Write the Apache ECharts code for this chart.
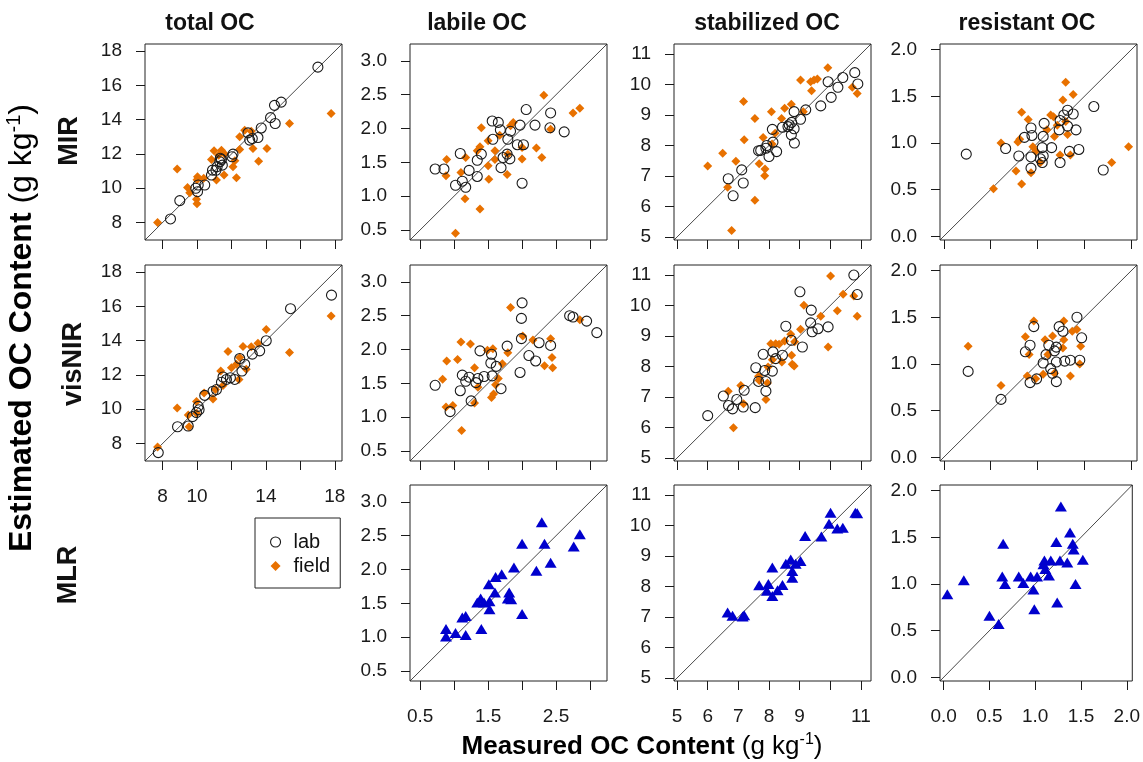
<!DOCTYPE html>
<html>
<head>
<meta charset="utf-8">
<title>Measured vs estimated OC</title>
<script src="https://cdn.jsdelivr.net/npm/echarts@6/dist/echarts.min.js"></script>
<style>
  html, body { margin: 0; padding: 0; background: #fff; }
  #chart { width: 1143px; height: 762px; }
</style>
</head>
<body>
<div id="chart"></div>
<script>
// ---- data: [measured, estimated] ----
const mirTotalLab = [[17.02,17.07],[14.5,14.84],[14.89,15.03],[14.27,14.12],[14.54,13.78],[13.73,13.52],[13.54,12.96],[13.21,12.9],[13.06,12.81],[12.96,13.23],[12.09,11.99],[12.03,11.84],[11.42,11.68],[11.32,11.55],[11.47,11.35],[11.17,11.26],[10.9,11.06],[10.84,10.77],[10.45,10.19],[10.07,10.19],[10.03,9.8],[9.93,10.0],[9.0,9.28],[8.46,8.21],[11.35,11.75],[11.1,11.05]];
const mirTotalField = [[7.71,8.0],[8.85,11.12],[9.45,10.05],[9.58,9.74],[9.97,9.36],[10.0,9.09],[10.03,10.67],[10.39,10.58],[10.99,12.19],[11.42,12.22],[10.84,11.68],[11.13,10.48],[11.57,10.77],[12.09,11.26],[12.29,10.62],[12.48,13.0],[12.77,13.39],[13.15,13.33],[12.48,12.26],[13.25,12.32],[13.58,11.57],[14.06,12.32],[15.37,13.78],[17.79,14.36],[11.26,11.93],[11.6,12.0],[12.2,11.6],[10.0,10.5]];

const mirLabileLab = [[0.72,1.40],[0.85,1.40],[1.02,1.16],[1.12,1.22],[1.17,1.13],[1.09,1.63],[1.22,1.38],[1.34,1.29],[1.34,1.53],[1.40,1.62],[1.56,2.11],[1.65,2.09],[1.68,1.98],[1.57,1.84],[1.69,1.42],[1.72,1.57],[1.79,1.84],[1.83,1.96],[1.78,1.62],[1.82,1.55],[1.93,1.76],[2.02,1.76],[1.97,2.05],[2.06,2.28],[2.0,1.19],[2.19,2.05],[2.41,2.01],[2.42,2.23],[2.62,1.95]];
const mirLabileField = [[1.02,0.45],[0.89,1.54],[0.88,1.30],[1.10,1.35],[1.17,1.57],[1.16,0.96],[1.38,0.81],[1.40,2.01],[1.34,1.67],[1.38,1.73],[1.50,1.82],[1.50,1.45],[1.51,1.25],[1.60,1.67],[1.60,1.54],[1.67,1.90],[1.78,1.32],[1.79,1.62],[1.83,2.04],[1.87,2.09],[2.0,1.55],[2.0,1.72],[2.21,1.71],[2.29,1.57],[2.32,2.49],[2.42,1.99],[2.75,2.23],[2.85,2.30]];

const mirStabLab = [[6.67,6.91],[6.83,6.35],[7.11,7.20],[7.16,6.77],[7.66,7.83],[7.73,7.84],[7.93,8.0],[7.90,7.91],[8.0,7.64],[8.25,7.80],[8.11,8.53],[8.13,8.11],[8.44,8.60],[8.62,8.62],[8.66,8.68],[8.74,8.76],[8.73,8.35],[8.82,8.55],[8.83,8.08],[8.82,9.11],[9.03,8.86],[9.20,9.17],[9.69,9.30],[9.93,10.09],[10.03,9.58],[10.25,9.91],[10.41,10.23],[10.80,10.39],[10.90,10.02]];
const mirStabField = [[6.0,7.33],[6.49,7.75],[6.65,6.63],[6.78,5.21],[6.92,7.48],[7.17,9.44],[7.19,8.19],[7.54,8.89],[7.54,6.20],[7.68,7.40],[7.81,8.26],[7.87,7.23],[7.86,7.01],[8.08,9.11],[8.20,8.40],[8.41,8.89],[8.51,9.22],[8.73,9.35],[9.03,10.15],[9.12,9.11],[9.39,9.80],[9.36,10.09],[9.47,10.15],[9.58,10.18],[9.92,10.55],[10.72,9.91],[10.88,9.71],[8.1,8.05]];

const mirResLab = [[0.24,0.88],[0.66,0.94],[0.80,0.86],[0.86,1.06],[0.93,1.16],[0.94,1.08],[0.93,0.85],[0.93,0.73],[1.03,0.83],[1.05,0.79],[1.06,0.86],[1.05,0.95],[1.06,1.07],[1.07,1.21],[1.15,0.95],[1.23,1.14],[1.24,1.24],[1.24,0.79],[1.28,1.30],[1.32,1.35],[1.32,1.18],[1.34,0.91],[1.38,1.31],[1.41,1.14],[1.44,0.93],[1.60,1.39],[1.70,0.71]];
const mirResField = [[0.53,0.51],[0.61,1.00],[0.77,0.70],[0.79,1.01],[0.81,1.04],[0.83,0.56],[0.83,1.33],[0.90,1.25],[0.93,0.68],[0.95,0.96],[0.98,0.91],[1.03,0.79],[1.10,1.14],[1.14,1.30],[1.17,1.28],[1.18,1.07],[1.21,1.19],[1.24,0.87],[1.27,1.46],[1.30,1.65],[1.30,1.23],[1.32,1.09],[1.35,0.87],[1.38,1.52],[1.79,0.79],[1.97,0.96]];

const visTotalLab = [[7.75,7.47],[8.87,8.98],[9.49,9.02],[9.74,9.57],[9.97,9.81],[10.07,10.17],[10.12,9.97],[10.45,10.81],[10.93,11.05],[11.13,11.15],[11.42,11.58],[11.51,11.88],[11.71,11.74],[11.94,11.84],[12.19,11.74],[12.48,12.96],[12.61,12.23],[12.77,12.63],[13.21,13.22],[13.64,13.41],[14.02,14.0],[15.43,15.87],[17.81,16.66]];
const visTotalField = [[7.71,7.80],[8.85,10.07],[9.49,9.67],[9.54,8.98],[9.97,10.46],[9.97,9.77],[10.41,10.95],[10.93,10.60],[11.07,11.15],[11.38,12.23],[11.51,11.39],[11.80,13.37],[12.0,12.43],[12.29,12.63],[12.44,11.74],[12.48,13.02],[12.67,13.67],[12.86,12.33],[13.15,13.65],[13.54,13.85],[14.02,14.65],[15.37,13.31],[17.79,15.44]];

const visLabileLab = [[0.72,1.47],[0.94,1.08],[1.09,1.39],[1.12,1.62],[1.17,1.53],[1.22,1.59],[1.25,1.24],[1.32,1.51],[1.35,1.57],[1.38,1.98],[1.44,1.60],[1.55,1.93],[1.54,1.80],[1.56,1.61],[1.62,1.75],[1.69,1.42],[1.78,2.05],[1.97,1.66],[1.99,2.16],[1.99,2.46],[2.0,2.69],[2.10,1.91],[2.20,1.83],[2.25,2.10],[2.42,2.06],[2.70,2.50],[2.75,2.48],[2.95,2.42],[3.10,2.25]];
const visLabileField = [[0.83,1.56],[0.88,1.15],[0.98,1.17],[0.89,1.83],[1.05,1.85],[1.10,2.11],[1.11,0.80],[1.24,2.08],[1.30,1.73],[1.30,1.21],[1.35,1.44],[1.49,1.99],[1.57,2.01],[1.55,1.29],[1.58,1.34],[1.61,1.48],[1.65,1.57],[1.71,1.79],[1.79,1.95],[1.83,2.62],[2.01,2.20],[2.16,2.14],[2.33,1.76],[2.42,2.16],[2.44,1.88],[2.45,1.73],[2.85,2.44]];

const visStabLab = [[6.0,6.39],[6.51,7.03],[6.68,6.72],[6.81,6.61],[6.95,6.92],[7.16,6.67],[7.19,7.22],[7.55,6.65],[7.57,7.96],[7.66,7.51],[7.81,8.40],[7.86,7.87],[7.90,7.51],[7.90,7.19],[8.11,7.85],[8.13,8.48],[8.22,8.26],[8.44,8.37],[8.55,9.32],[8.73,8.86],[9.01,10.45],[9.09,8.64],[9.36,9.43],[9.38,9.85],[9.41,9.14],[9.60,9.24],[9.93,9.30],[10.77,11.0],[10.88,10.36]];
const visStabField = [[6.67,7.19],[6.84,5.99],[7.08,7.38],[7.17,6.78],[7.66,7.68],[7.68,7.54],[7.90,6.92],[7.95,7.46],[7.97,7.98],[8.11,8.22],[8.06,8.75],[8.22,8.75],[8.33,8.73],[8.42,8.15],[8.51,8.84],[8.71,9.06],[8.74,8.37],[8.76,8.07],[8.82,8.02],[8.84,8.81],[9.03,9.22],[9.14,10.01],[9.69,9.65],[9.93,8.64],[10.01,10.97],[10.23,9.83],[10.42,10.37],[10.77,10.31],[10.88,9.65]];

const visResLab = [[0.26,0.92],[0.61,0.62],[0.87,1.13],[0.92,1.20],[0.92,0.80],[0.96,1.40],[0.99,0.84],[1.06,1.01],[1.09,1.10],[1.12,1.20],[1.14,0.95],[1.16,0.90],[1.18,1.14],[1.20,1.18],[1.20,0.81],[1.20,1.02],[1.23,1.40],[1.27,1.35],[1.29,1.03],[1.35,1.04],[1.42,1.50],[1.45,1.04],[1.47,1.28]];
const visResField = [[0.26,1.19],[0.61,0.77],[0.87,1.29],[0.89,0.87],[0.91,1.10],[0.96,1.46],[0.98,0.84],[1.06,0.89],[1.08,1.26],[1.11,1.10],[1.16,1.30],[1.18,0.90],[1.27,1.17],[1.28,1.46],[1.28,1.26],[1.35,0.87],[1.37,1.35],[1.42,1.37],[1.46,1.19],[1.45,1.00]];

const mlrLabile = [[0.88,1.12],[0.88,1.01],[1.02,1.06],[1.12,1.29],[1.17,1.31],[1.17,1.03],[1.40,1.12],[1.34,1.51],[1.39,1.57],[1.44,1.51],[1.51,1.78],[1.52,1.53],[1.52,1.41],[1.60,1.66],[1.61,1.89],[1.70,1.93],[1.81,1.66],[1.79,1.57],[1.84,1.56],[1.88,2.03],[2.00,1.34],[2.00,2.38],[2.21,1.98],[2.29,2.70],[2.33,2.38],[2.42,2.10],[2.76,2.34],[2.85,2.52]];
const mlrStab = [[6.65,7.15],[6.81,7.04],[7.14,7.02],[7.19,7.06],[7.68,8.04],[7.93,7.86],[7.98,8.08],[8.11,7.69],[8.28,7.88],[8.11,8.62],[8.44,8.05],[8.55,8.75],[8.71,8.89],[8.76,8.51],[8.76,8.29],[8.87,8.75],[9.03,8.84],[9.18,9.66],[9.71,9.64],[9.96,10.06],[10.01,10.42],[10.23,9.90],[10.41,9.93],[10.82,10.42],[10.88,10.40]];
const mlrRes = [[0.04,0.89],[0.22,1.04],[0.50,0.66],[0.60,0.57],[0.65,1.43],[0.64,1.08],[0.67,1.00],[0.82,1.08],[0.87,1.01],[0.95,1.08],[0.98,0.94],[0.99,0.73],[1.02,1.08],[1.09,1.21],[1.10,1.25],[1.11,1.16],[1.15,1.09],[1.17,1.25],[1.23,1.45],[1.24,0.80],[1.27,1.25],[1.28,1.83],[1.35,1.23],[1.38,1.55],[1.41,1.43],[1.42,1.37],[1.44,1.00],[1.52,1.26]];

// ---- axes ----
const totalRange = [6.98, 18.42];
const totalTicks = [8, 10, 12, 14, 16, 18];
const totalXLabels = [8, 10, 14, 18];
const labileRange = [0.35, 3.25];
const labileTicks = [0.5, 1.0, 1.5, 2.0, 2.5, 3.0];
const labileXLabels = [0.5, 1.5, 2.5];
const stabRange = [4.9, 11.33];
const stabTicks = [5, 6, 7, 8, 9, 10, 11];
const stabXLabels = [5, 6, 7, 8, 9, 11];
const resRange = [-0.04, 2.06];
const resTicks = [0.0, 0.5, 1.0, 1.5, 2.0];
const resXLabels = [0.0, 0.5, 1.0, 1.5, 2.0];

const columnTitles = ['total OC', 'labile OC', 'stabilized OC', 'resistant OC'];
const rowTitles = ['MIR', 'visNIR', 'MLR'];

// ---- look ----
const FONT = '"Liberation Sans", Arial, sans-serif';
const ORANGE = '#E87100';
const BLUE = '#0000CD';
const INK = '#1a1a1a';

const colLeft = [145, 410, 674, 940];
const rowTop = [44, 265, 485];
const PANEL_W = 197;
const PANEL_H = 196;

const fractions = [
    { range: totalRange, ticks: totalTicks, xLabels: totalXLabels, digits: 0 },
    { range: labileRange, ticks: labileTicks, xLabels: labileXLabels, digits: 1 },
    { range: stabRange, ticks: stabTicks, xLabels: stabXLabels, digits: 0 },
    { range: resRange, ticks: resTicks, xLabels: resXLabels, digits: 1 },
];

// row, col, [series...], show x labels
const panels = [
    [0, 0, [['field', mirTotalField], ['lab', mirTotalLab]], false],
    [0, 1, [['field', mirLabileField], ['lab', mirLabileLab]], false],
    [0, 2, [['field', mirStabField], ['lab', mirStabLab]], false],
    [0, 3, [['field', mirResField], ['lab', mirResLab]], false],
    [1, 0, [['field', visTotalField], ['lab', visTotalLab]], true],
    [1, 1, [['field', visLabileField], ['lab', visLabileLab]], false],
    [1, 2, [['field', visStabField], ['lab', visStabLab]], false],
    [1, 3, [['field', visResField], ['lab', visResLab]], false],
    [2, 1, [['MLR', mlrLabile]], true],
    [2, 2, [['MLR', mlrStab]], true],
    [2, 3, [['MLR', mlrRes]], true],
];

const symbols = {
    lab: { symbol: 'circle', symbolSize: 10, itemStyle: { color: 'rgba(0,0,0,0)', borderColor: INK, borderWidth: 1.1, opacity: 1 } },
    field: { symbol: 'diamond', symbolSize: 9, itemStyle: { color: ORANGE, opacity: 1 } },
    MLR: { symbol: 'triangle', symbolSize: [12, 10], itemStyle: { color: BLUE, opacity: 1 } },
};

const grid = [], xAxis = [], yAxis = [], series = [];

panels.forEach(([row, col, sets, showX], i) => {
    const f = fractions[col];
    const fmt = v => Number(v).toFixed(f.digits);
    grid.push({
        left: colLeft[col], top: rowTop[row], width: PANEL_W, height: PANEL_H,
        show: true, borderColor: '#222', borderWidth: 1, backgroundColor: 'transparent'
    });
    const common = {
        gridIndex: i, type: 'value', min: f.range[0], max: f.range[1],
        axisLine: { show: false, onZero: false },
        splitLine: { show: false },
        axisTick: { show: true, inside: false, length: 9, customValues: f.ticks, lineStyle: { color: INK, width: 1 } },
    };
    xAxis.push(Object.assign({}, common, {
        axisLabel: { show: showX, customValues: f.xLabels, formatter: fmt, margin: 26, fontSize: 19, fontFamily: FONT, color: INK }
    }));
    yAxis.push(Object.assign({}, common, {
        axisLabel: { show: true, customValues: f.ticks, formatter: fmt, margin: 23, fontSize: 19, fontFamily: FONT, color: INK }
    }));
    // 1:1 line
    series.push({
        type: 'line', xAxisIndex: i, yAxisIndex: i, silent: true, symbol: 'none',
        data: [[f.range[0], f.range[0]], [f.range[1], f.range[1]]],
        lineStyle: { color: INK, width: 0.8 }, z: 1
    });
    sets.forEach(([name, data]) => {
        series.push(Object.assign({
            type: 'scatter', name: name, xAxisIndex: i, yAxisIndex: i, data: data, z: 2,
            emphasis: { disabled: true }
        }, symbols[name]));
    });
});

const graphic = [];
const titleX = [210, 477, 767, 1027];
columnTitles.forEach((t, c) => {
    graphic.push({ type: 'text', x: titleX[c], y: 24,
        style: { text: t, font: 'bold 23px ' + FONT, fill: '#111', textAlign: 'center', textVerticalAlign: 'middle', align: 'center', verticalAlign: 'middle' } });
});
const rowLabelPos = [[70, 141], [74, 364], [69, 575]];
rowTitles.forEach((t, r) => {
    graphic.push({ type: 'text', x: rowLabelPos[r][0], y: rowLabelPos[r][1], rotation: Math.PI / 2,
        style: { text: t, font: 'bold 27px ' + FONT, fill: '#111', textAlign: 'center', textVerticalAlign: 'middle', align: 'center', verticalAlign: 'middle' } });
});

function titleRich(size) {
    return {
        b: { fontSize: size, fontWeight: 'bold', fontFamily: FONT, color: '#111', lineHeight: size + 4 },
        n: { fontSize: size, fontFamily: FONT, color: '#111', lineHeight: size + 4 },
        s: { fontSize: Math.round(size * 0.62), fontFamily: FONT, color: '#111', verticalAlign: 'top', lineHeight: Math.round(size * 0.62) },
    };
}
graphic.push({ type: 'text', x: 642, y: 747,
    style: { text: '{b|Measured OC Content}{n| (g kg}{s|-1}{n|)}', rich: titleRich(26), textAlign: 'center', textVerticalAlign: 'middle', align: 'center', verticalAlign: 'middle' } });
graphic.push({ type: 'text', x: 22, y: 328, rotation: Math.PI / 2,
    style: { text: '{b|Estimated OC Content}{n| (g kg}{s|-1}{n|)}', rich: titleRich(32), textAlign: 'center', textVerticalAlign: 'middle', align: 'center', verticalAlign: 'middle' } });

const chart = echarts.init(document.getElementById('chart'));
chart.setOption({
    animation: false,
    backgroundColor: '#fff',
    grid: grid,
    xAxis: xAxis,
    yAxis: yAxis,
    series: series,
    graphic: graphic,
    legend: {
        orient: 'vertical', left: 255, top: 518,
        data: [
            { name: 'lab', icon: 'circle', itemStyle: { color: 'rgba(0,0,0,0)', borderColor: INK, borderWidth: 1.1 } },
            { name: 'field', icon: 'diamond', itemStyle: { color: ORANGE } }
        ],
        itemWidth: 10, itemHeight: 10, itemGap: 4,
        padding: [14, 10, 12, 15],
        borderColor: '#222', borderWidth: 1,
        selectedMode: false,
        textStyle: { fontSize: 20, fontFamily: FONT, color: '#111', padding: [0, 0, 0, 8] }
    }
});
</script>
</body>
</html>
